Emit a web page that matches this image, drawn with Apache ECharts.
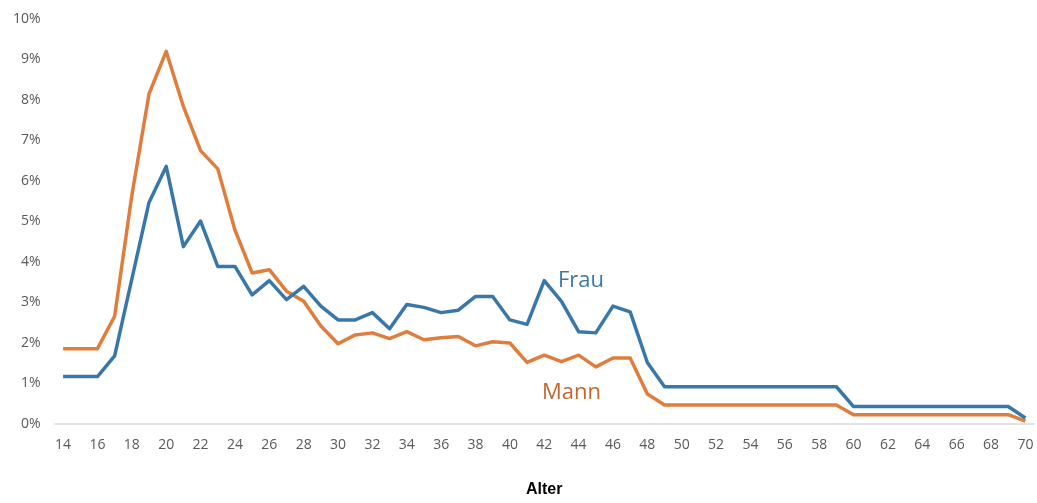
<!DOCTYPE html>
<html>
<head>
<meta charset="utf-8">
<script src="https://cdn.jsdelivr.net/npm/echarts@6/dist/echarts.min.js"></script>
<style>
  html, body { margin: 0; padding: 0; background: #fff; }
  #chart { width: 1037px; height: 503px; }
</style>
</head>
<body>
<div id="chart"></div>
<script>
// Age groups 14..70
const ages = [];
for (let a = 14; a <= 70; a++) ages.push(String(a));

// Share per age, in percent
const frau = [
  1.17, 1.17, 1.17, 1.68, 3.58, 5.47, 6.36, 4.38, 5.01, 3.89,
  3.89, 3.19, 3.54, 3.07, 3.40, 2.91, 2.57, 2.57, 2.75, 2.35,
  2.95, 2.88, 2.75, 2.81, 3.15, 3.15, 2.57, 2.46, 3.54, 3.03,
  2.28, 2.25, 2.91, 2.77, 1.52, 0.92, 0.92, 0.92, 0.92, 0.92,
  0.92, 0.92, 0.92, 0.92, 0.92, 0.92, 0.43, 0.43, 0.43, 0.43,
  0.43, 0.43, 0.43, 0.43, 0.43, 0.43, 0.15
];
const mann = [
  1.86, 1.86, 1.86, 2.66, 5.64, 8.15, 9.20, 7.84, 6.75, 6.30,
  4.79, 3.73, 3.81, 3.28, 3.03, 2.42, 1.98, 2.20, 2.25, 2.11,
  2.28, 2.08, 2.13, 2.16, 1.93, 2.03, 2.00, 1.52, 1.70, 1.54,
  1.70, 1.41, 1.63, 1.63, 0.74, 0.47, 0.47, 0.47, 0.47, 0.47,
  0.47, 0.47, 0.47, 0.47, 0.47, 0.47, 0.23, 0.23, 0.23, 0.23,
  0.23, 0.23, 0.23, 0.23, 0.23, 0.23, 0.07
];

const chart = echarts.init(document.getElementById('chart'));
const tickFont = { fontFamily: 'Open Sans', fontSize: 14, color: '#595959' };

chart.setOption({
  animation: false,
  grid: { left: 54.5, right: 3, top: 19, bottom: 76 },
  xAxis: {
    type: 'category',
    data: ages,
    boundaryGap: true,
    name: 'Alter',
    nameLocation: 'middle',
    nameGap: 58,
    nameTextStyle: { fontFamily: 'Liberation Sans', fontWeight: 'bold', fontSize: 16, color: '#000' },
    axisLine: { lineStyle: { color: '#D9D9D9', width: 1.5 } },
    axisTick: { show: false },
    axisLabel: Object.assign({ interval: 1, margin: 14 }, tickFont)
  },
  yAxis: {
    type: 'value',
    min: 0,
    max: 10,
    interval: 1,
    splitLine: { show: false },
    axisLine: { show: false },
    axisTick: { show: false },
    axisLabel: Object.assign({ margin: 14, formatter: v => v + '%' }, tickFont)
  },
  series: [
    {
      name: 'Frau', type: 'line', data: frau, symbol: 'none',
      lineStyle: { color: '#3A77A9', width: 3.5, join: 'round' }, z: 3
    },
    {
      name: 'Mann', type: 'line', data: mann, symbol: 'none',
      lineStyle: { color: '#E07D3C', width: 3.5, join: 'round' }, z: 2
    }
  ],
  graphic: [
    {
      type: 'text', left: 558, top: 270,
      style: { text: 'Frau', fontFamily: 'Open Sans', fontSize: 22, fill: '#3A77A9' }
    },
    {
      type: 'text', left: 542, top: 382,
      style: { text: 'Mann', fontFamily: 'Open Sans', fontSize: 22, fill: '#C4652D' }
    }
  ]
});
</script>
</body>
</html>
